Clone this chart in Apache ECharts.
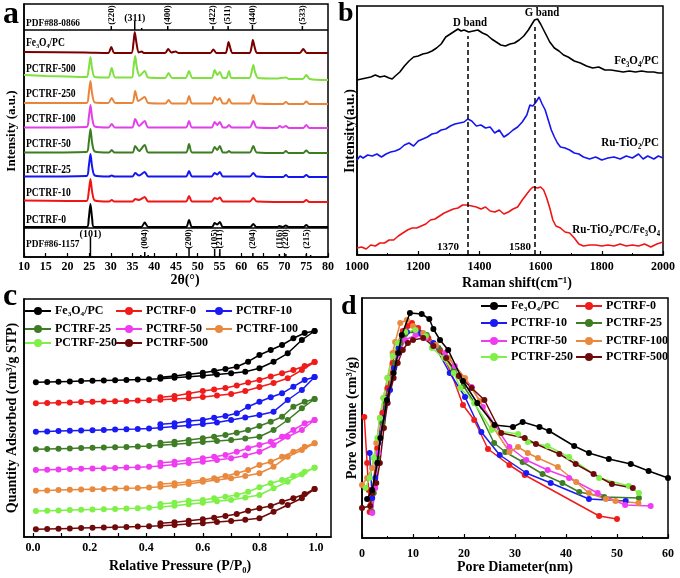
<!DOCTYPE html>
<html><head><meta charset="utf-8">
<script src="https://cdn.jsdelivr.net/npm/echarts@6/dist/echarts.min.js"></script>
<style>html,body{margin:0;padding:0;background:#fff}#c{width:680px;height:578px}</style>
</head><body><div id="c"></div>
<script>
const FF = '"Liberation Serif","Times New Roman",serif';

// ---------- Panel a : XRD ----------
const xrdNames = ['Fe₃O₄/PC','PCTRF-500','PCTRF-250','PCTRF-100','PCTRF-50','PCTRF-25','PCTRF-10','PCTRF-0'];
const xrdOffsets = [204,178,153,129,104,80,55,30];
const xrdColors = ['#7a0000','#80e040','#e8853a','#e040e8','#3c7d22','#1515f0','#f01515','#000000'];
const xrdFe3O4PC = [[10,1],[24,0.5],[29.4,0],[30.1,6],[30.8,0],[34.7,0],[35.2,10],[35.5,21],[35.9,10],[36.4,0.5],[37.1,1.5],[37.6,0],[42.5,0],[43.2,4],[43.9,0.5],[44.9,1.5],[45.6,0],[52.9,0],[53.6,3.5],[54.3,0],[56.4,0],[56.8,5],[57.1,11],[57.5,5],[58,0],[61.9,0],[62.4,6],[62.7,13],[63.1,6],[63.7,0],[73.5,0],[74.3,4],[75.1,0],[80,0]];
const xrd500 = [[10,4],[15,3],[20,2.5],[24.4,2],[24.9,10],[25.3,22],[25.7,10],[26.3,2],[29.4,1.5],[30.2,11],[31,1.5],[34.8,1.5],[35.2,11],[35.6,23],[36,11],[36.6,3],[37.8,8],[38.6,1.5],[42.5,1],[43.3,6],[44.1,1],[47.2,1],[48,8],[48.8,1],[53.2,1],[53.9,9],[54.5,4],[55.1,7],[55.8,1],[56.6,1],[57.2,8],[57.8,1],[61.9,1],[62.4,7],[62.8,14],[63.2,7],[63.9,1],[68,0.5],[70.3,1.5],[71,0],[74.2,0],[75,4],[75.8,0],[80,-1]];
const xrd250 = [[10,1],[24.4,1],[24.9,10],[25.3,23],[25.7,10],[26.3,1.5],[29.4,1],[30.2,6],[31,1],[34.9,1],[35.6,13],[36.3,3],[37.8,7],[38.6,1],[42.6,0.5],[43.3,4],[44,0.5],[47.3,0.5],[48,8],[48.7,0.5],[53.2,0.5],[53.9,7],[54.5,4],[55.1,6],[55.8,0.5],[56.6,0.5],[57.2,5],[57.9,0.5],[62,0.5],[62.8,9],[63.6,0.5],[69.6,0],[70.3,2],[71,0],[74.3,0],[75,2.5],[75.7,0],[80,0]];
const xrd100 = [[10,0.5],[24.4,1],[24.9,10],[25.3,23],[25.7,10],[26.3,1.5],[29.5,0.5],[30.2,4],[30.9,0.5],[34.9,0.5],[35.6,9],[36.5,2],[37.8,7],[38.6,0.5],[47.3,0.5],[48,7],[48.7,0.5],[53.2,0.5],[53.9,6],[54.5,3],[55.1,6],[55.8,0.5],[56.6,0.5],[57.2,3],[57.8,0.5],[62,0.5],[62.8,7],[63.6,0.5],[68.3,0],[68.9,2],[69.5,0.5],[70.3,2],[71,0],[74.3,0],[75,3],[75.7,0],[80,0]];
const xrd50 = [[10,0.5],[24.4,1],[24.9,10],[25.3,24],[25.7,10],[26.3,1.5],[29.6,0.5],[30.2,3],[30.8,0.5],[35,0.5],[35.6,7],[36.5,2],[37.8,8],[38.6,0.5],[47.3,0.5],[48,9],[48.7,0.5],[53.2,0.5],[53.9,6],[54.5,3],[55.1,7],[55.8,0.5],[56.7,0.5],[57.2,2],[57.7,0.5],[62,0.5],[62.8,7],[63.6,0.5],[69.7,0],[70.3,2],[70.9,0],[74.3,0],[75,2.5],[75.7,0],[80,0]];
const xrd25 = [[10,0.5],[24.4,1],[24.9,10],[25.3,23],[25.7,10],[26.3,1.5],[29.6,0.5],[30.2,1.5],[30.8,0.5],[35,0.5],[35.6,4],[36.5,1.5],[37.8,5],[38.6,0.5],[47.3,0.5],[48,6],[48.7,0.5],[53.2,0.5],[53.9,4],[54.5,2.5],[55.1,5],[55.8,0.5],[62,0.5],[62.8,4],[63.6,0.5],[69.7,0],[70.3,2],[70.9,0],[74.3,0],[75,2],[75.7,0],[80,0]];
const xrd10 = [[10,1.5],[20,1],[24.4,1],[24.9,10],[25.3,23],[25.7,10],[26.3,1.5],[29.6,0.5],[30.2,2],[30.8,0.5],[35,0.5],[35.6,3],[36.5,2],[37.8,5],[38.6,0.5],[47.3,0.5],[48,6],[48.7,0.5],[53.2,0.5],[53.9,4],[54.5,3],[55.1,4.5],[55.8,0.5],[62,0.5],[62.8,4],[63.6,0.5],[74.3,0],[75,2],[75.7,0],[80,0]];
const xrd0 = [[10,0],[24.5,0],[24.9,8],[25.3,23],[25.7,8],[26.1,0],[37,0],[37.8,4.5],[38.6,0],[47.3,0],[48,7],[48.7,0],[53.3,0],[53.9,4],[54.5,2.5],[55.1,5],[55.8,0],[62.1,0],[62.8,3],[63.5,0],[68.3,0],[68.8,1],[69.5,0],[70.3,1.5],[71,0],[74.4,0],[75,2],[75.6,0],[80,0]];
const xrdPatterns = [xrdFe3O4PC, xrd500, xrd250, xrd100, xrd50, xrd25, xrd10, xrd0];

// reference cards
const pdfMagPos = [30.1, 35.5, 37.1, 43.1, 53.5, 57.0, 62.6, 74.1];
const pdfMagH   = [4, 9, 2, 4, 4, 4, 5, 4];
const pdfMagLab = ['(220)','(311)','','(400)','(422)','(511)','(440)','(533)'];
const pdfAnaPos = [25.3, 36.9, 37.8, 38.6, 48.0, 53.9, 55.1, 62.7, 68.8, 70.3, 75.0, 76.0];
const pdfAnaH   = [20, 2, 5, 2, 9, 8, 8, 4, 3, 3, 3, 2];
const pdfAnaLab = ['(101)','','(004)','','(200)','(105)','(211)','(204)','(116)','(220)','(215)',''];
const xrdTicks = [10,15,20,25,30,35,40,45,50,55,60,65,70,75,80];

// ---------- Panel b : Raman ----------
const ramanNames = ['Fe₃O₄/PC','Ru-TiO₂/PC','Ru-TiO₂/PC/Fe₃O₄'];
const ramanColors = ['#000000','#1515f0','#f01515'];
const ramanFe3O4PC = [[1000,175],[1015,176],[1030,177],[1045,178],[1060,180],[1075,178],[1090,179],[1105,177],[1115,176],[1125,179],[1140,183],[1155,189],[1170,194],[1185,198],[1200,199],[1215,201],[1230,202],[1245,204],[1260,207],[1275,211],[1290,218],[1305,221],[1320,224],[1330,226],[1340,224],[1350,225],[1365,223],[1380,224],[1395,225],[1410,222],[1425,220],[1440,216],[1455,213],[1470,210],[1485,209],[1500,211],[1515,212],[1530,215],[1545,219],[1560,225],[1570,230],[1580,235],[1590,236],[1600,231],[1615,222],[1630,213],[1645,207],[1660,204],[1675,200],[1690,198],[1710,194],[1730,192],[1750,189],[1770,187],[1790,188],[1810,185],[1830,185],[1850,184],[1870,183],[1890,184],[1910,183],[1930,184],[1950,183],[1970,183],[1985,182],[2000,182]];
const ramanRuTiO2PC = [[1000,95],[1010,99],[1020,97],[1035,100],[1050,99],[1065,101],[1080,98],[1095,101],[1110,103],[1125,104],[1140,106],[1155,110],[1170,112],[1185,109],[1200,114],[1215,116],[1230,118],[1245,121],[1260,122],[1275,125],[1290,126],[1305,129],[1320,131],[1335,132],[1350,133],[1362,136],[1375,134],[1390,129],[1405,130],[1420,127],[1435,128],[1450,122],[1465,125],[1480,118],[1495,121],[1510,125],[1525,128],[1540,133],[1555,140],[1565,150],[1575,149],[1585,153],[1595,158],[1605,151],[1615,145],[1625,135],[1635,125],[1645,118],[1655,112],[1665,108],[1680,107],[1695,105],[1710,102],[1725,101],[1740,98],[1760,96],[1780,98],[1800,95],[1820,97],[1840,98],[1860,96],[1880,99],[1900,97],[1920,101],[1935,96],[1950,99],[1970,96],[1985,99],[2000,97]];
const ramanRuTiO2PCFe3O4 = [[1000,7],[1015,8],[1030,6],[1045,10],[1060,9],[1075,12],[1090,12],[1105,15],[1120,15],[1135,19],[1150,22],[1165,25],[1180,27],[1195,27],[1210,29],[1225,31],[1240,35],[1255,36],[1270,39],[1285,42],[1300,44],[1315,46],[1330,47],[1345,50],[1360,50],[1375,49],[1390,48],[1405,46],[1420,48],[1435,44],[1450,43],[1465,45],[1480,41],[1495,43],[1510,46],[1525,48],[1540,55],[1555,61],[1565,65],[1575,68],[1590,67],[1600,68],[1610,65],[1620,57],[1630,47],[1640,35],[1650,29],[1665,27],[1680,23],[1695,22],[1710,17],[1725,11],[1740,9],[1760,10],[1780,10],[1800,9],[1820,10],[1840,9],[1860,11],[1880,9],[1900,10],[1920,9],[1940,11],[1960,8],[1980,11],[2000,13]];
const ramanData = [ramanFe3O4PC, ramanRuTiO2PC, ramanRuTiO2PCFe3O4];
const bandPos = [1363, 1580];
const bandTop = [219, 228];

// ---------- Panel c : isotherms ----------
const sampleNames = ['Fe₃O₄/PC','PCTRF-0','PCTRF-10','PCTRF-25','PCTRF-50','PCTRF-100','PCTRF-250','PCTRF-500'];
const sampleColors = ['#000000','#f01c1c','#1a1af5','#3e7c26','#f03cf0','#e8893e','#7ef048','#6e0a0a'];
const adsP = [0.01,0.05,0.09,0.13,0.17,0.21,0.25,0.29,0.33,0.37,0.41,0.45,0.5,0.55,0.6,0.65,0.7,0.75,0.8,0.85,0.9,0.95,0.995];
const desP = [0.995,0.96,0.92,0.88,0.84,0.8,0.76,0.72,0.68,0.64,0.6,0.55,0.5,0.45];
const adsQ = [
  [154.7,155,155.3,155.6,155.9,156.2,156.5,156.8,157.1,157.4,157.8,158.3,159.2,160.2,161.3,162.5,163.7,165.3,168.7,175.3,183.7,197,206],
  [133.7,134,134.3,134.6,134.9,135.2,135.5,135.8,136.1,136.4,136.8,137.3,138,138.7,140,141.5,143,146,150,154,158.7,167,175],
  [105.3,105.6,105.9,106.2,106.5,106.8,107.1,107.4,107.7,108.1,108.6,109.2,110.5,111.5,113,114.5,117,119.5,122,125.3,137,147,160],
  [87.7,88,88.3,88.6,88.9,89.2,89.5,89.8,90.1,90.5,91,91.8,92.7,93.7,95,96,97,98.5,100.3,107,117,128.7,138],
  [67,67.3,67.6,67.9,68.2,68.5,68.8,69.1,69.4,69.8,70.3,71,72.5,74,75.3,77,78.7,81.5,85.3,92,100.3,107,117],
  [46.3,46.6,46.9,47.2,47.5,47.8,48.1,48.4,48.7,49.1,49.6,50.3,51.5,53,55.3,57,58.7,61,63.7,70.3,80.3,87,93.7],
  [26,26.3,26.6,26.9,27.2,27.5,27.8,28.1,28.4,28.8,29.3,30,31.2,32.7,34.3,35.7,37,39.5,42,48.7,55.3,62.7,69.3],
  [7.7,8,8.3,8.6,8.9,9.2,9.5,9.8,10.1,10.4,10.8,11.3,12,13,13.7,15,16,17.3,18.7,25.3,32,38.7,48]
];
const desQ = [
  [206,204,198.7,192,187,182,175.3,170.3,168,166,164.3,162.7,161,159.7],
  [175,171,167,163.7,160.5,157,154.5,151.5,149,147.5,146,143.5,141,139.7],
  [160,157,150.3,143.7,139.7,135.3,130.3,123.7,121,119.3,117,116,113.7,112.7],
  [138,135.3,130.3,120.3,115.3,111,107,104.3,102,100.3,98.7,97,95.3,94.3],
  [117,113.7,107,100.3,95.3,92,88.7,85.3,82,80.3,78.7,77,75.3,74.3],
  [93.7,90.3,85.3,80.3,75.3,72,67,63.7,61,58.7,57,55.3,53.7,53],
  [69.3,65.3,61,57,53.7,49.7,45.3,42,40.3,38.7,37,36.3,34.3,33],
  [48,43,38.7,35.3,31,28.7,26.3,23,21,19.3,17.7,16.3,14.7,13.7]
];
const cTicks = [0,0.2,0.4,0.6,0.8,1.0];
const cMinor = [0,0.1,0.2,0.3,0.4,0.5,0.6,0.7,0.8,0.9,1.0];

// ---------- Panel d : pore size distribution ----------
const poreFe3O4PC = [[1,39],[2,48],[3,75],[3.6,100],[4.9,138],[6.2,165],[7.1,185],[7.8,203],[9.4,225],[11.7,224],[13.2,219],[14,209],[15.3,198],[16.9,188],[19.8,157],[22.6,135],[26,113],[29.6,111],[31.5,116],[34.8,111],[36.7,107],[41.6,92],[44.5,85],[48.4,79],[52.7,74],[56.2,67],[60,60]];
const pore0 = [[0.45,121],[1,75],[1.3,48],[1.5,26],[2,45],[3,90],[4,125],[5,150],[6,175],[7,195],[8,207],[9,212],[9.8,215],[11,210],[13,200],[15.3,188],[17.5,165],[19.8,133],[22,118],[24.7,89],[28.9,73],[31.9,63],[46.5,22],[50,19]];
const pore10 = [[1.5,85],[2,40],[2.6,60],[3.2,95],[4,120],[4.7,140],[5.5,148],[6.3,170],[7.2,190],[8.8,206],[11.4,205],[14,195],[17.2,165],[20.2,141],[23.4,106],[27,83],[32.2,65],[37,55],[44.5,39],[51.7,37]];
const pore25 = [[2,26],[2.3,45],[3,80],[4,115],[4.7,135],[5.7,160],[6.5,175],[7.5,195],[8.5,204],[10.5,207],[12.7,203],[15,190],[18,168],[19.9,152],[22.1,135],[25.9,95],[28.1,86],[31.5,76],[35.4,64],[39.3,55],[42.6,46],[47.5,41],[54.3,40]];
const pore50 = [[2,25],[2.6,50],[3.2,85],[4,110],[5,135],[5.9,160],[7,183],[8.5,198],[10.5,203],[12.5,200],[14.5,192],[16.3,185],[18.2,172],[21.5,151],[23.7,131],[28.9,91],[32.2,78],[36.4,68],[40.6,60],[46.2,45],[51.6,33],[56.6,32]];
const pore100 = [[0,53],[1,60],[2,70],[2.8,95],[3.5,120],[4.2,140],[5,160],[6,185],[6.5,196],[7.5,215],[8.8,218],[10,212],[12,205],[14.5,193],[17,180],[20.2,160],[23.1,137],[25.7,111],[28.9,86],[30.6,91],[32.5,85],[34.5,80],[38.4,71],[42,56],[44.5,45],[47.8,39],[49.7,37],[54.2,35]];
const pore250 = [[0.7,50],[1.5,60],[2.3,80],[3,100],[3.5,120],[4.2,140],[5,160],[6,182],[7,195],[8.5,206],[10.5,208],[12.5,202],[13.7,190],[16,180],[18,165],[19.3,150],[22,135],[25.4,108],[30.6,104],[32.5,96],[36.4,92],[40.6,81],[46.5,60],[52.3,52],[54.3,45]];
const pore500 = [[0,30],[1.6,32],[2,45],[2.8,55],[3.5,75],[4.3,110],[5,135],[6.2,160],[7,175],[8,188],[9,195],[10,198],[12,200],[14,192],[16.5,180],[19,162],[21.5,150],[24,138],[27.3,105],[31.9,100],[34.1,94],[38.7,84],[41.9,74],[45.4,64],[49,54],[53.1,50]];
const poreData = [poreFe3O4PC, pore0, pore10, pore25, pore50, pore100, pore250, pore500];

// ---------- build ----------
const chart = echarts.init(document.getElementById('c'), null, {renderer:'canvas'});
const axisLab = {fontFamily:FF, fontWeight:'bold', fontSize:12, color:'#000', formatter: v => String(v)};

function xAx(gi, min, max, interval, extra) {
  return Object.assign({type:'value', gridIndex:gi, min, max, interval,
    axisLine:{show:true, onZero:false, lineStyle:{color:'#000', width:1.5}},
    axisTick:{show:true, inside:true, length:4, lineStyle:{color:'#000', width:1.2}},
    minorTick:{show:true, splitNumber:2, length:2, lineStyle:{color:'#000'}},
    splitLine:{show:false}, axisLabel:Object.assign({margin:5}, axisLab)}, extra || {});
}
function yAx(gi, min, max) {
  return {type:'value', gridIndex:gi, min, max, axisLine:{show:true, onZero:false, lineStyle:{color:'#000', width:1.5}},
    axisTick:{show:false}, axisLabel:{show:false}, splitLine:{show:false}};
}
const gridBase = {show:true, borderColor:'#000', borderWidth:1.5, backgroundColor:'transparent', containLabel:false};

const series = [];
// a
xrdPatterns.forEach((pat, i) => {
  series.push({type:'line', name:'a ' + xrdNames[i], xAxisIndex:0, yAxisIndex:0, showSymbol:false, symbol:'none',
    data: pat.map(p => [p[0], p[1] + xrdOffsets[i]]), smooth:0.25,
    lineStyle:{color:xrdColors[i], width:2}, itemStyle:{color:xrdColors[i]}, silent:true, z:3,
    markLine: i === 0 ? {silent:true, symbol:'none', label:{show:false}, lineStyle:{color:'#000', width:1.5, type:'solid'},
      data:[{yAxis:227},{yAxis:29}]} : undefined});
});
function stickSeries(pos, hts, labs, base, labR, labH) {
  return {type:'custom', xAxisIndex:0, yAxisIndex:0, silent:true, clip:false, z:4,
    data: pos.map((p, i) => [p, hts[i]]),
    encode:{x:0, y:1},
    renderItem: function(params, api) {
      const i = params.dataIndex;
      const x = api.value(0), h = api.value(1);
      const p0 = api.coord([x, base]), p1 = api.coord([x, base + h]);
      const ch = [{type:'line', shape:{x1:p0[0], y1:p0[1], x2:p1[0], y2:p1[1]}, style:{stroke:'#000', lineWidth:1.5}}];
      const lab = labs[i];
      if (lab) {
        const hz = (lab === '(101)' || lab === '(311)');
        const lp = api.coord([x, hz ? labH : labR]);
        ch.push({type:'text', x:lp[0], y:lp[1], rotation: hz ? 0 : Math.PI/2,
          style:{text:lab, font:'bold ' + (hz ? 10 : 9) + 'px ' + FF, fill:'#000', align:'center', verticalAlign:'middle'}});
      }
      return {type:'group', children:ch};
    }};
}
series.push(stickSeries(pdfMagPos, pdfMagH, pdfMagLab, 227, 242, 239));
series.push(stickSeries(pdfAnaPos, pdfAnaH, pdfAnaLab, 0, 18, 23));
// b
ramanData.forEach((d, i) => {
  series.push({type:'line', name:'b ' + ramanNames[i], xAxisIndex:1, yAxisIndex:1, showSymbol:false, symbol:'none',
    data:d, lineStyle:{color:ramanColors[i], width:1.6}, silent:true, z:3,
    markLine: i === 0 ? {silent:true, symbol:'none', label:{show:false}, lineStyle:{color:'#000', width:1.5, type:[5,3]},
      data: bandPos.map((b, k) => [{coord:[b, 0]}, {coord:[b, bandTop[k]]}])} : undefined});
});
// c
sampleNames.forEach((n, i) => {
  const d = adsP.map((p, k) => [p, adsQ[i][k]]).concat(desP.map((p, k) => [p, desQ[i][k]]));
  series.push({type:'line', name:n, xAxisIndex:2, yAxisIndex:2, data:d, symbol:'circle', symbolSize:6, showSymbol:true,
    lineStyle:{color:sampleColors[i], width:1.5}, itemStyle:{color:sampleColors[i]}, silent:true, z:3});
});
// d
sampleNames.forEach((n, i) => {
  series.push({type:'line', name:n, xAxisIndex:3, yAxisIndex:3, data:poreData[i], symbol:'circle', symbolSize:6, showSymbol:true,
    lineStyle:{color:sampleColors[i], width:1.5}, itemStyle:{color:sampleColors[i]}, silent:true, z:3 + (i === 0 ? 1 : 0)});
});

// legends
const legends = [];
function leg(name, left, cy) {
  legends.push({data:[name], left:left, top:cy - 6, itemWidth:26, itemHeight:10, itemGap:0, padding:0,
    selectedMode:false, textStyle:{fontFamily:FF, fontWeight:'bold', fontSize:12, color:'#000', padding:[0,0,0,-1]}});
}
const cCols = [24, 115, 205], cRows = [311, 329, 343];
sampleNames.forEach((n, i) => leg(n, cCols[i % 3], cRows[Math.floor(i / 3)]));
const dCols = [480, 575], dRows = [306, 323, 341, 357];
sampleNames.forEach((n, i) => leg(n, dCols[i % 2], dRows[Math.floor(i / 2)]));

// text helpers
function T(text, x, y, o) {
  o = o || {};
  return {type:'text', x:x, y:y, rotation:o.rot || 0, scaleX:o.sx || 1, z:10, silent:true,
    style:{text:text, font:'bold ' + (o.size || 12) + 'px ' + FF, fill:o.color || '#000',
      align:o.align || 'left', verticalAlign:'middle'}};
}
const aLabY = [43, 69, 94, 119, 144, 170, 193, 220];
const g = [
  T('a', 3, 15, {size:32}), T('b', 338, 14, {size:28}), T('c', 3, 297, {size:32}), T('d', 341, 307, {size:28}),
  T('PDF#88-0866', 26, 23, {size:11, sx:0.85}), T('PDF#86-1157', 26, 244, {size:11, sx:0.85}),
  T('Intensity (a.u.)', 12, 131, {size:13, rot:Math.PI/2, align:'center'}),
  T('2θ(°)', 185, 280, {size:14, align:'center'}),
  T('Intensity(a.u.)', 350, 131, {size:14, rot:Math.PI/2, align:'center'}),
  T('Raman shift(cm⁻¹)', 517, 283, {size:14, align:'center'}),
  T('D band', 470, 23, {size:12, align:'center', sx:0.9}), T('G band', 542, 13, {size:12, align:'center', sx:0.9}),
  T('1370', 459, 247, {size:11, align:'right'}), T('1580', 531, 247, {size:11, align:'right'}),
  T('Fe₃O₄/PC', 659, 61, {size:13, align:'right', sx:0.85}),
  T('Ru-TiO₂/PC', 659, 143, {size:13, align:'right', sx:0.85}),
  T('Ru-TiO₂/PC/Fe₃O₄', 660, 230, {size:13, align:'right', sx:0.85}),
  T('Quantity Adsorbed (cm³/g STP)', 12, 418, {size:14, rot:Math.PI/2, align:'center'}),
  T('Relative Pressure (P/P₀)', 180, 566, {size:14, align:'center'}),
  T('Pore Volume (cm³/g)', 352, 418, {size:14, rot:Math.PI/2, align:'center'}),
  T('Pore Diameter(nm)', 515, 567, {size:14, align:'center'})
];
xrdNames.forEach((n, i) => g.push(T(n, 26, aLabY[i], {size:12, sx:0.8})));

chart.setOption({
  animation:false,
  backgroundColor:'#fff',
  grid:[
    Object.assign({left:24, top:4, width:304, height:253}, gridBase),
    Object.assign({left:357, top:6, width:306, height:249}, gridBase),
    Object.assign({left:24, top:299, width:307, height:238}, gridBase),
    Object.assign({left:362, top:298, width:306, height:240}, gridBase)
  ],
  xAxis:[
    xAx(0, 10, 80, 5, {axisLabel:Object.assign({}, axisLab, {margin:4, customValues:xrdTicks}), minorTick:{show:false}}),
    xAx(1, 1000, 2000, 200, {axisLabel:Object.assign({}, axisLab, {margin:6})}),
    xAx(2, -0.032, 1.053, null, {axisLabel:Object.assign({}, axisLab, {margin:5, customValues:cTicks, formatter:v => v.toFixed(1)}),
      axisTick:{show:true, inside:true, length:4, customValues:cMinor, lineStyle:{color:'#000', width:1.2}}, minorTick:{show:false}}),
    xAx(3, 0, 60, 10, {axisLabel:Object.assign({}, axisLab, {margin:10})})
  ],
  yAxis:[ yAx(0, 0, 253), yAx(1, 0, 249), yAx(2, 0, 238), yAx(3, 0, 240) ],
  legend:legends,
  graphic:g,
  series:series
});
</script></body></html>
